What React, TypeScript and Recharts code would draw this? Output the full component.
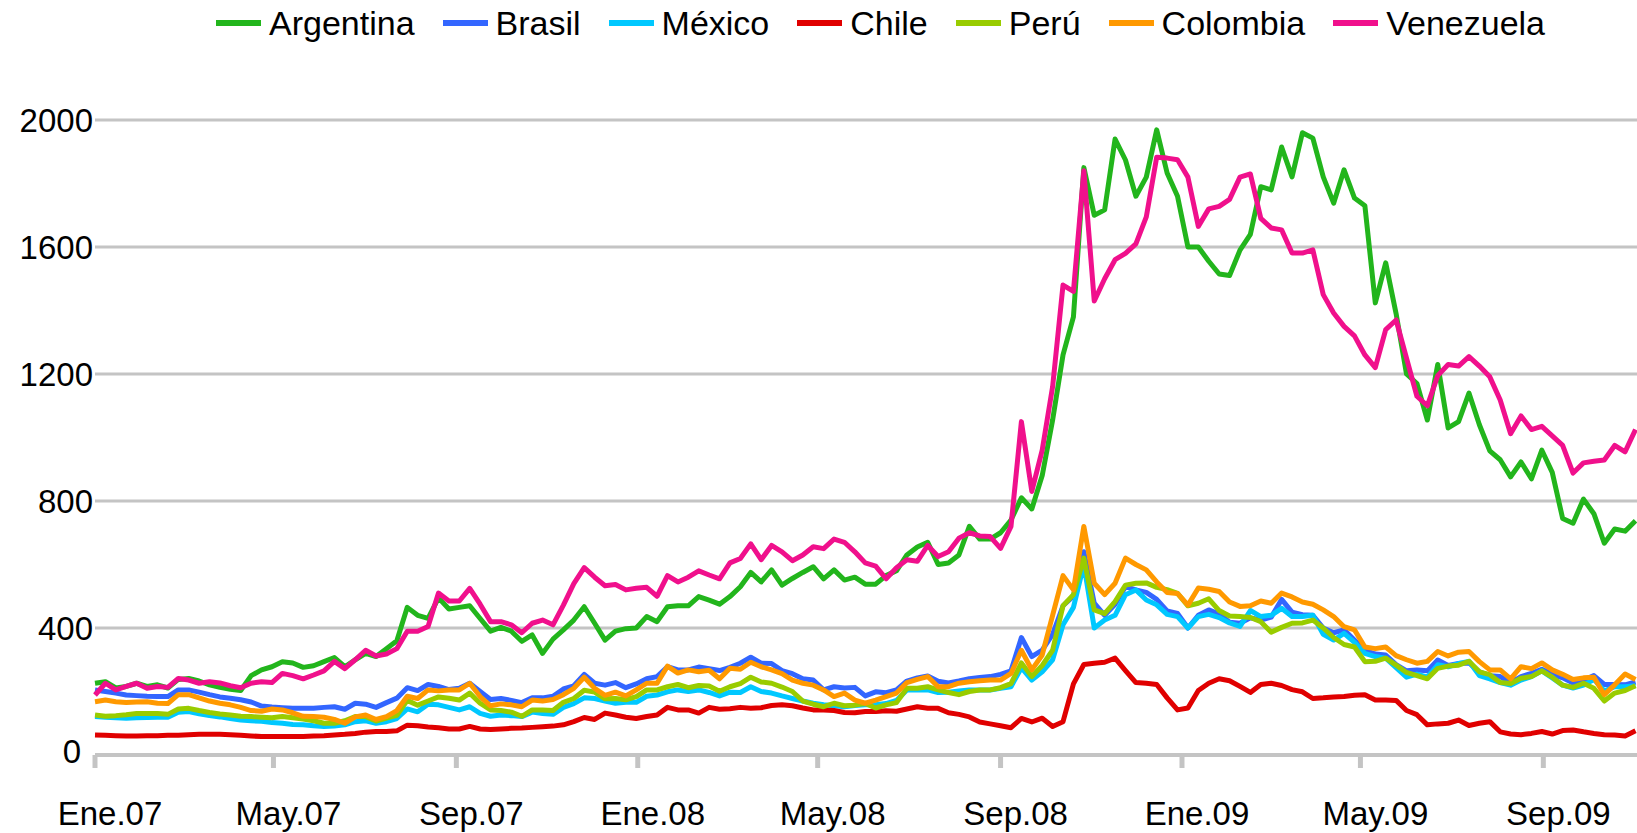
import React from "react";
import { LineChart, Line, XAxis, YAxis, CartesianGrid, Legend } from "recharts";

// weekly spread series, first observation on 1 Jan 2007 (x = days since then)
const monthTicks = [0, 120, 243, 365, 486, 609, 731, 851, 974];
const monthLabels = ["Ene.07", "May.07", "Sep.07", "Ene.08", "May.08", "Sep.08", "Ene.09", "May.09", "Sep.09"];
const yTicks = [0, 400, 800, 1200, 1600, 2000];

const argentina = [
  226, 231, 211, 216, 226, 216, 221, 211, 238, 241,
  233, 221, 213, 207, 203, 250, 268, 278, 294, 290,
  276, 281, 294, 307, 278, 300, 320, 310, 335, 360,
  465, 440, 430, 495, 460, 465, 470, 430, 390, 402,
  390, 358, 378, 320, 365, 394, 425, 467, 415, 362,
  390, 398, 400, 436, 420, 467, 470, 470, 499, 488,
  475, 499, 530, 575, 545, 583, 535, 556, 575, 593,
  555, 583, 551, 560, 538, 538, 565, 580, 630, 655,
  670, 600, 605, 630, 720, 680, 680, 700, 740, 810,
  775, 880, 1055, 1260, 1380, 1850, 1700, 1717, 1940, 1874,
  1760, 1820, 1969, 1833, 1760, 1600, 1600, 1555, 1515, 1510,
  1590, 1640, 1790, 1780, 1915, 1821, 1960, 1943, 1821, 1738,
  1843, 1754, 1730, 1424, 1550, 1390, 1200, 1170, 1055, 1230,
  1030, 1050, 1140, 1040, 958, 930, 876, 923, 870, 960,
  890, 745, 730, 806, 760, 667, 712, 705, 738,
];

const brasil = [
  205, 200, 195, 189, 187, 185, 184, 184, 205, 205,
  198, 190, 183, 179, 174, 167, 154, 151, 149, 147,
  147, 147, 150, 152, 144, 163, 160, 150, 165, 179,
  212, 203, 222, 216, 206, 210, 226, 200, 175, 178,
  172, 165, 180, 180, 185, 208, 218, 254, 226, 220,
  228, 212, 224, 240, 247, 278, 268, 268, 277, 272,
  266, 276, 289, 308, 289, 288, 266, 256, 240, 236,
  205, 215, 211, 213, 186, 199, 196, 205, 233, 243,
  249, 232, 227, 233, 240, 244, 247, 254, 265, 370,
  310, 330, 380, 470, 500, 640, 478, 440, 475, 530,
  520, 512, 490, 454, 446, 400, 440, 457, 444, 418,
  415, 432, 425, 434, 490, 450, 442, 440, 400, 385,
  394, 362, 330, 318, 315, 285, 265, 268, 265, 299,
  282, 288, 290, 262, 250, 247, 228, 247, 257, 270,
  255, 243, 227, 235, 250, 222, 222, 221, 230,
];

const mexico = [
  121, 119, 117, 116, 117, 118, 119, 119, 135, 137,
  130, 124, 120, 115, 110, 108, 106, 102, 100, 96,
  95, 92, 90, 91, 95, 105, 108, 100, 105, 115,
  145, 136, 160, 158, 150, 142, 152, 131, 122, 126,
  124, 121, 135, 131, 128, 150, 162, 180, 178, 170,
  163, 166, 166, 185, 189, 199, 205, 200, 205, 197,
  186, 198, 197, 215, 200, 195, 186, 178, 170, 163,
  158, 155, 152, 156, 158, 158, 162, 172, 205, 205,
  205, 197, 198, 202, 205, 205, 205, 210, 215, 275,
  236, 262, 300, 410, 465, 600, 400, 425, 440, 505,
  520, 488, 473, 443, 436, 400, 436, 443, 433, 416,
  405, 455, 436, 440, 462, 436, 436, 440, 380, 362,
  383, 355, 320, 310, 305, 275, 245, 255, 245, 284,
  278, 288, 295, 250, 240, 228, 220, 236, 247, 265,
  243, 220, 211, 220, 238, 202, 215, 215, 218,
];

const chile = [
  63, 62, 61, 60, 60, 61, 61, 62, 62, 64,
  65, 65, 65, 64, 62, 60, 58, 58, 58, 58,
  58, 60, 61, 63, 65, 68, 72, 74, 74, 76,
  94, 92, 88, 86, 82, 82, 90, 82, 80, 82,
  84, 85, 87, 89, 91, 95, 105, 118, 112, 132,
  126, 119, 115, 121, 126, 150, 142, 142, 132, 150,
  144, 146, 150, 147, 149, 156, 158, 155, 148, 142,
  142, 140, 134, 133, 137, 137, 139, 138, 145, 152,
  147, 147, 133, 128, 120, 104, 98, 92, 86, 115,
  104, 116, 90, 105, 224, 285, 289, 292, 305, 266,
  228, 226, 222, 180, 142, 148, 203, 226, 240, 234,
  216, 197, 222, 226, 219, 206, 199, 178, 180, 183,
  184, 188, 190, 173, 173, 172, 140, 127, 95, 98,
  100, 110, 93, 100, 105, 73, 66, 64, 68, 74,
  66, 77, 79, 73, 68, 64, 63, 60, 76,
];

const peru = [
  126, 122, 124, 127, 131, 131, 131, 128, 145, 147,
  140, 134, 129, 126, 122, 121, 119, 117, 121, 117,
  113, 108, 100, 100, 108, 121, 121, 107, 116, 125,
  172, 157, 170, 183, 179, 173, 195, 163, 142, 140,
  135, 122, 142, 142, 140, 166, 178, 204, 198, 177,
  178, 174, 184, 205, 205, 215, 222, 212, 219, 217,
  201, 215, 225, 245, 230, 226, 214, 200, 170, 160,
  152, 163, 155, 157, 162, 148, 158, 165, 210, 210,
  215, 205, 197, 190, 200, 205, 205, 212, 225, 290,
  247, 282, 330, 470, 505, 620, 457, 445, 483, 535,
  541, 542, 528, 521, 509, 470, 478, 492, 455, 438,
  436, 433, 420, 387, 402, 415, 416, 425, 400, 370,
  348, 340, 294, 295, 305, 283, 260, 250, 240, 273,
  280, 283, 295, 262, 253, 228, 225, 242, 247, 265,
  245, 220, 213, 226, 210, 170, 195, 203, 218,
];

const colombia = [
  168, 173, 168, 165, 167, 168, 163, 162, 190, 190,
  180, 170, 163, 158, 150, 140, 138, 145, 142, 133,
  122, 121, 119, 112, 100, 120, 126, 112, 121, 140,
  185, 178, 205, 202, 205, 205, 226, 184, 155, 161,
  158, 152, 173, 170, 175, 190, 210, 245, 210, 188,
  198, 186, 205, 226, 226, 280, 258, 268, 262, 267,
  240, 273, 270, 292, 278, 268, 256, 236, 226, 220,
  205, 184, 195, 173, 163, 173, 184, 195, 228, 238,
  247, 215, 215, 226, 231, 234, 236, 236, 257, 330,
  268, 315, 440, 565, 520, 720, 541, 505, 541, 620,
  600, 583, 545, 512, 509, 472, 526, 522, 515, 482,
  468, 470, 485, 478, 510, 498, 482, 475, 457, 436,
  404, 394, 340, 335, 340, 313, 300, 289, 295, 326,
  312, 324, 326, 294, 268, 268, 240, 278, 272, 290,
  268, 254, 238, 243, 245, 190, 221, 255, 238,
];

const venezuela = [
  189, 226, 205, 216, 226, 210, 216, 213, 241, 236,
  226, 231, 227, 218, 212, 226, 231, 228, 257, 250,
  240, 252, 265, 295, 272, 300, 330, 312, 318, 335,
  390, 390, 405, 510, 485, 485, 525, 475, 420, 420,
  410, 385, 415, 425, 410, 472, 540, 590, 560, 533,
  537, 520, 525, 528, 500, 565, 545, 560, 580, 567,
  555, 605, 619, 665, 615, 660, 640, 612, 630, 656,
  650, 680, 670, 640, 605, 595, 555, 590, 615, 610,
  660, 625, 640, 683, 700, 690, 688, 651, 720, 1050,
  830, 960, 1160, 1480, 1460, 1840, 1430, 1500, 1560, 1580,
  1610, 1695, 1883, 1880, 1875, 1820, 1665, 1720, 1728, 1750,
  1820, 1830, 1690, 1660, 1654, 1581, 1581, 1591, 1450, 1392,
  1350, 1320, 1260, 1220, 1340, 1370, 1250, 1130, 1100, 1195,
  1230, 1225, 1255, 1225, 1191, 1118, 1012, 1068, 1025, 1035,
  1005, 975, 888, 920, 925, 929, 975, 955, 1025,
];

const seriesList = [
  { key: "argentina", name: "Argentina", color: "#22b51c", values: argentina },
  { key: "brasil", name: "Brasil", color: "#3366ff", values: brasil },
  { key: "mexico", name: "México", color: "#00c8ff", values: mexico },
  { key: "chile", name: "Chile", color: "#e00000", values: chile },
  { key: "peru", name: "Perú", color: "#99cc00", values: peru },
  { key: "colombia", name: "Colombia", color: "#ff9900", values: colombia },
  { key: "venezuela", name: "Venezuela", color: "#f0108c", values: venezuela },
];

const data = argentina.map((_, i) => {
  const row: Record<string, number> = { day: i * 7 };
  seriesList.forEach((s) => {
    row[s.key] = s.values[i];
  });
  return row;
});

const fontFamily = '"Liberation Sans", Arial, sans-serif';

const MonthTick = (props: any) => {
  const { x, y, payload } = props;
  const idx = monthTicks.indexOf(payload.value);
  return (
    <text x={x + 15} y={y} dy={55} textAnchor="middle" fontSize={33} fill="#000" fontFamily={fontFamily}>
      {monthLabels[idx]}
    </text>
  );
};

// the zero label sits a little left and up in the original
const ValueTick = (props: any) => {
  const { x, y, payload } = props;
  const isZero = payload.value === 0;
  return (
    <text
      x={isZero ? x - 12 : x}
      y={y}
      dy={isZero ? 8 : 12}
      textAnchor="end"
      fontSize={33}
      fill="#000"
      fontFamily={fontFamily}
    >
      {payload.value}
    </text>
  );
};

const renderLegend = () => (
  <div
    style={{
      display: "flex",
      alignItems: "center",
      height: 46,
      paddingLeft: 216,
      fontSize: 34,
      fontFamily,
      color: "#000",
    }}
  >
    {seriesList.map((s) => (
      <div key={s.key} style={{ display: "flex", alignItems: "center", marginRight: 28 }}>
        <span style={{ display: "inline-block", width: 45, height: 6, background: s.color, marginRight: 8 }} />
        <span>{s.name}</span>
      </div>
    ))}
  </div>
);

const App = () => {
  return (
    <div style={{ position: "absolute", left: 0, top: 0, fontFamily, background: "#fff" }}>
      <LineChart width={1637} height={833} data={data} margin={{ top: 74, right: 0, bottom: 0, left: 0 }}>
        <CartesianGrid vertical={false} stroke="#c4c4c4" strokeWidth={3} />
        <XAxis
          dataKey="day"
          type="number"
          domain={[0, 1037]}
          ticks={monthTicks}
          interval={0}
          height={78}
          axisLine={{ stroke: "#c4c4c4", strokeWidth: 4 }}
          tickLine={{ stroke: "#c4c4c4", strokeWidth: 5 }}
          tickSize={13}
          tick={<MonthTick />}
        />
        <YAxis
          domain={[0, 2000]}
          ticks={yTicks}
          interval={0}
          width={95}
          axisLine={false}
          tickLine={false}
          tickSize={0}
          tickMargin={2}
          tick={<ValueTick />}
        />
        <Legend
          verticalAlign="top"
          content={renderLegend}
          wrapperStyle={{ top: 0, left: 0, width: 1637 }}
        />
        {seriesList.map((s) => (
          <Line
            key={s.key}
            type="linear"
            dataKey={s.key}
            name={s.name}
            stroke={s.color}
            strokeWidth={5}
            strokeLinejoin="round"
            dot={false}
            activeDot={false}
            isAnimationActive={false}
          />
        ))}
      </LineChart>
    </div>
  );
};

export default App;
